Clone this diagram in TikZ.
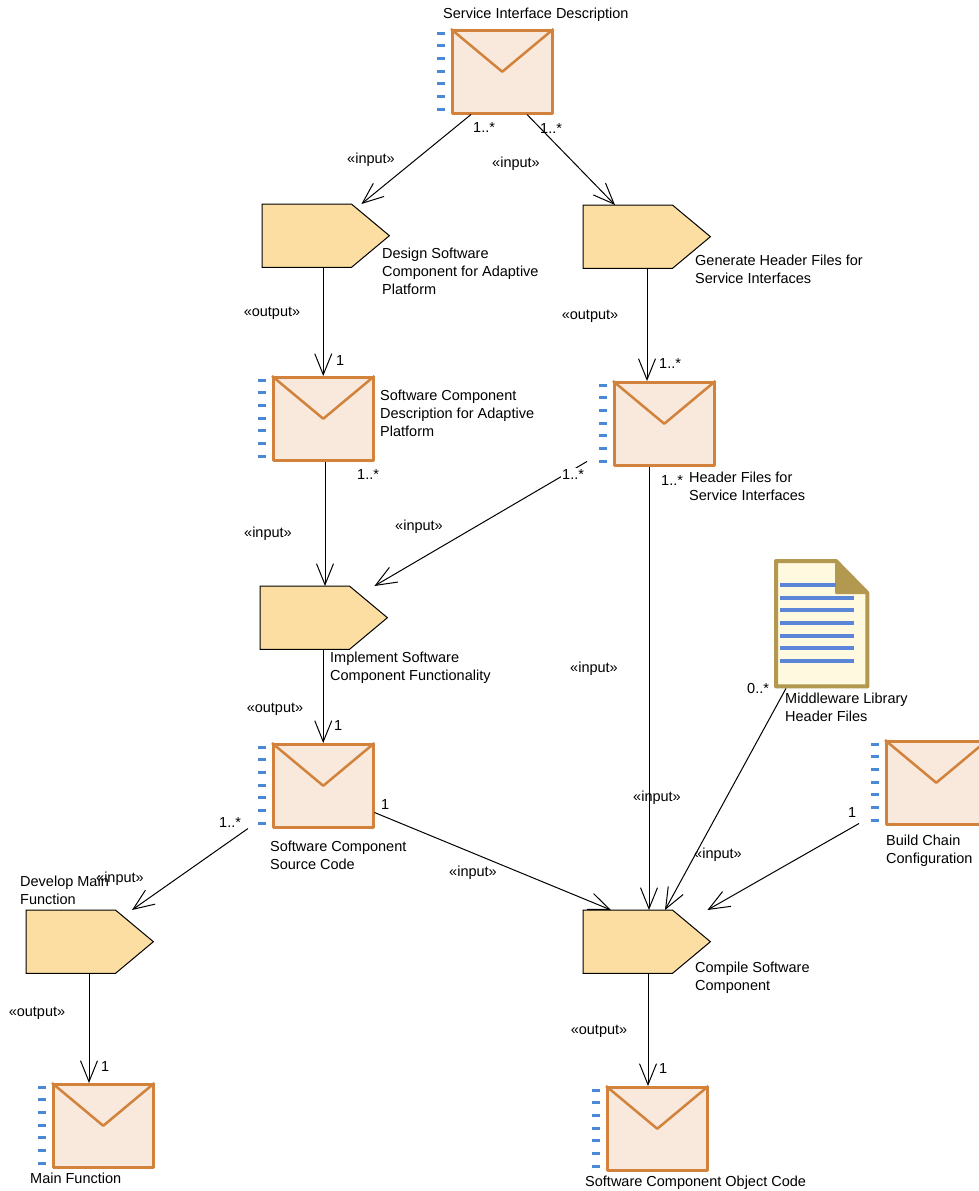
\documentclass[tikz,border=0pt]{standalone}
\usepackage{fontspec}
\setmainfont{Liberation Sans}
\usetikzlibrary{arrows.meta,calc}
\definecolor{envfill}{HTML}{F8E9DC}
\definecolor{envline}{HTML}{D2823A}
\definecolor{dashblue}{HTML}{4A89D6}
\definecolor{taskfill}{HTML}{FDDEA2}
\definecolor{docfill}{HTML}{FFFADF}
\definecolor{docedge}{HTML}{B2994F}
\definecolor{docline}{HTML}{5B86D8}
\newcommand\lblfont{\fontsize{14.5}{18}\selectfont}
\newcommand\ml[1]{\begin{tabular}[t]{@{}l@{}}#1\end{tabular}}
\tikzset{
  env/.style={draw=envline, fill=envfill, line width=2.5pt, line join=round,
    minimum width=100pt, minimum height=83pt, inner sep=0pt, anchor=north west},
  envv/.style={draw=envline, line width=2.5pt, line join=round},
  dsh/.style={draw=dashblue, line width=3pt},
  taskb/.style={minimum width=127pt, minimum height=63pt, inner sep=0pt, anchor=north west},
  taskd/.style={draw=black, fill=taskfill, line width=1pt},
  docb/.style={minimum width=95pt, minimum height=129pt, inner sep=0pt, anchor=north west},
  docd/.style={draw=docedge, fill=docfill, line width=4pt, line join=round},
  dl/.style={draw=docline, line width=4pt},
  conn/.style={draw=black, line width=1pt, -{Straight Barb[length=21pt,width=17pt]}},
  lbl/.style={font=\lblfont, inner sep=0pt, anchor=base west},
  clbl/.style={font=\lblfont, inner sep=0pt, anchor=base},
}
\newcommand\envnode[3]{%
  \node[env] (#1) at (#2+1,#3+1) {};
  \draw[envv] (#1.north west) -- (#1.center) -- (#1.north east);
  \foreach \k in {0,...,6}{\draw[dsh] ($(#1.north west)+(-14,4+12.67*\k)$) -- ++(8,0);}
}
\newcommand\tasknode[3]{%
  \node[taskb] (#1) at (#2,#3) {};
  \filldraw[taskd] (#1.north west) -- ($(#1.north east)+(-38,0)$) -- (#1.east)
    -- ($(#1.south east)+(-38,0)$) -- (#1.south west) -- cycle;
}
\begin{document}
\begin{tikzpicture}[x=1pt,y=-1pt]
\fill[white] (0,0) rectangle (979,1191);
\useasboundingbox (0,0) rectangle (979,1191);

% artifacts
\envnode{sid}{450}{28}
\envnode{scd}{271}{375}
\envnode{hf}{612}{380}
\envnode{scsc}{271}{742}
\envnode{mf}{51}{1082}
\envnode{scoc}{605}{1085}
\envnode{bcc}{884}{739}

% tasks
\tasknode{design}{262}{204}
\tasknode{gen}{583}{205}
\tasknode{impl}{260}{586}
\tasknode{dev}{26}{910}
\tasknode{comp}{583}{910}

% document
\node[docb] (doc) at (774,559) {};
\filldraw[docd] ($(doc.north west)+(2,2)$) -- ($(doc.north west)+(62,2)$)
  -- ($(doc.north east)+(-2,34)$) -- ($(doc.south east)+(-2,-2)$)
  -- ($(doc.south west)+(2,-2)$) -- cycle;
\filldraw[draw=docedge, fill=docedge, line width=2pt, line join=round]
  ($(doc.north west)+(62,2)$) -- ($(doc.north west)+(62,34)$) -- ($(doc.north east)+(-2,34)$) -- cycle;
\draw[dl] ($(doc.north west)+(6,26)$) -- ($(doc.north west)+(62,26)$);
\foreach \k in {1,...,6}{\draw[dl] ($(doc.north west)+(6,26+12.67*\k)$) -- ++(74,0);}

% connectors
\draw[conn] ($(sid.south west)+(20,0)$) -- ($(design.north east)+(-28,0)$);
\draw[conn] ($(sid.south west)+(76,0)$) -- ($(gen.north west)+(32,0)$);
\draw[conn] (scd.north |- design.south) -- (scd.north);
\coordinate (hfin) at ($(hf.north west)+(34,0)$);
\draw[conn] (hfin |- gen.south) -- (hfin);
\coordinate (scdout) at ($(scd.south west)+(53,0)$);
\draw[conn] (scdout) -- (scdout |- impl.north);
\draw[conn] ($(hf.south west)+(-26,-5)$) -- ($(impl.north east)+(-13,0)$);
\coordinate (hfout) at ($(hf.south west)+(36,0)$);
\draw[conn] (hfout) -- (hfout |- comp.north);
\draw[conn] (scsc.north |- impl.south) -- (scsc.north);
\draw[conn] ($(scsc.south east)+(0,-16)$) -- ($(comp.north west)+(28,0)$);
\draw[conn] ($(doc.south west)+(12,0)$) -- ($(comp.north west)+(82,0)$);
\draw[conn] ($(bcc.south west)+(-26,-2)$) -- ($(comp.north east)+(-3,0)$);
\draw[conn] ($(scsc.south west)+(-24,0)$) -- ($(dev.north west)+(106,0)$);
\coordinate (mfin) at ($(mf.north west)+(37,0)$);
\draw[conn] (mfin |- dev.south) -- (mfin);
\coordinate (scocin) at ($(scoc.north west)+(42,0)$);
\draw[conn] (scocin |- comp.south) -- (scocin);

% element labels
\node[lbl] (tsid) at (443,19) {Service Interface Description};
\node[lbl] (tdesign) at (382,258) {\ml{Design Software\\Component for Adaptive\\Platform}};
\node[lbl] (tgen) at (695,265) {\ml{Generate Header Files for\\Service Interfaces}};
\node[lbl] (tscd) at (380,400) {\ml{Software Component\\Description for Adaptive\\Platform}};
\node[lbl] (thf) at (689,482) {\ml{Header Files for\\Service Interfaces}};
\node[lbl] (timpl) at (330,662) {\ml{Implement Software\\Component Functionality}};
\node[lbl] (tdoc) at (785,703) {\ml{Middleware Library\\Header Files}};
\node[lbl] (tbcc) at (886,845) {\ml{Build Chain\\Configuration}};
\node[lbl] (tscsc) at (270,851) {\ml{Software Component\\Source Code}};
\node[lbl] (tdev) at (20,886) {\ml{Develop Main\\Function}};
\node[lbl] (tcomp) at (695,972) {\ml{Compile Software\\Component}};
\node[lbl] (tmf) at (30,1183) {Main Function};
\node[lbl] (tscoc) at (585,1186) {Software Component Object Code};

% multiplicities
\node[lbl] (m1) at (473,132) {1..*};
\node[lbl] (m2) at (540,133) {1..*};
\node[lbl] (m3) at (336,365) {1};
\node[lbl] (m4) at (659,368) {1..*};
\node[lbl] (m5) at (661,485) {1..*};
\node[lbl] (m6) at (357,479) {1..*};
\node[lbl, fill=white, inner sep=1pt] (m7) at (561,479) {1..*};
\node[lbl] (m8) at (334,730) {1};
\node[lbl] (m9) at (747,693) {0..*};
\node[lbl] (m10) at (848,817) {1};
\node[lbl] (m11) at (219,827) {1..*};
\node[lbl] (m12) at (381,809) {1};
\node[lbl] (m13) at (101,1071) {1};
\node[lbl] (m14) at (659,1073) {1};

% stereotypes
\node[clbl] (i1) at (371,163) {«input»};
\node[clbl] (i2) at (516,167) {«input»};
\node[clbl] (o1) at (272,316) {«output»};
\node[clbl] (o2) at (590,319) {«output»};
\node[clbl] (i3) at (268,537) {«input»};
\node[clbl] (i4) at (419,530) {«input»};
\node[clbl] (i5) at (594,672) {«input»};
\node[clbl] (o3) at (275,712) {«output»};
\node[clbl] (i6) at (657,801) {«input»};
\node[clbl] (i7) at (718,858) {«input»};
\node[clbl] (i8) at (473,876) {«input»};
\node[clbl] (i9) at (120,882) {«input»};
\node[clbl] (o4) at (37,1016) {«output»};
\node[clbl] (o5) at (599,1034) {«output»};
\end{tikzpicture}
\end{document}
